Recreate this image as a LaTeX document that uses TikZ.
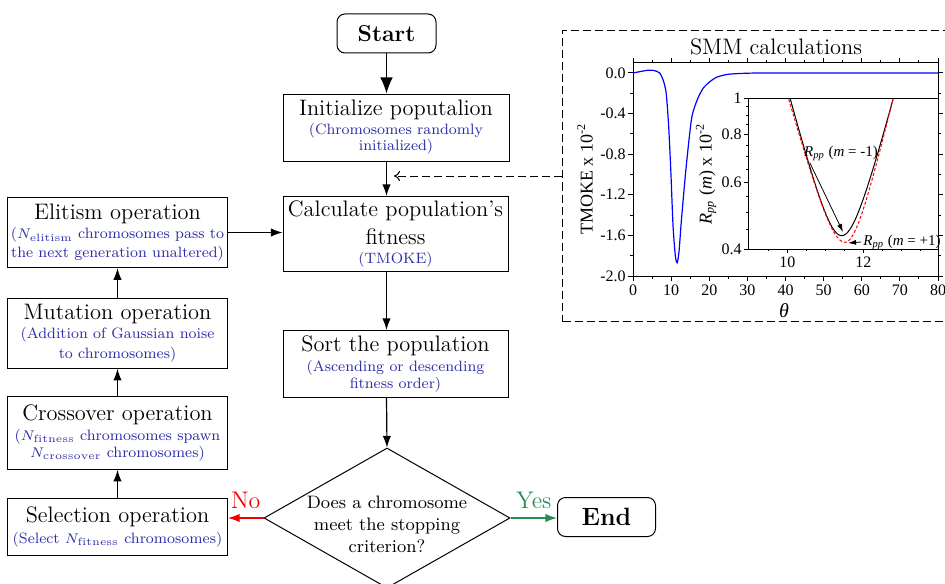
\documentclass[tikz,border=0pt]{standalone}
\usepackage{fontspec}
\newfontfamily\plotfont{Liberation Serif}
\usetikzlibrary{shapes.geometric,arrows.meta}
\definecolor{notecol}{RGB}{45,45,170}
\definecolor{yescol}{RGB}{40,140,85}
\definecolor{nocol}{RGB}{240,0,0}
\newcommand{\boxtitle}[1]{{\fontsize{11.2}{13}\selectfont #1}}
\newcommand{\boxnote}[1]{{\color{notecol}#1}}
\begin{document}
\begin{tikzpicture}[x=0.5pt,y=-0.5pt,
	stepbox/.style={draw,line width=0.5pt,align=center,inner sep=1pt,font=\fontsize{7.5}{8.3}\selectfont},
	termbox/.style={draw,line width=0.5pt,rounded corners=4pt,minimum height=19.5pt,font=\bfseries\fontsize{11.5}{13}\selectfont},
	decide/.style={draw,diamond,line width=0.5pt,minimum width=123pt,minimum height=70pt,inner sep=0pt},
	qtext/.style={align=center,inner sep=0pt,font=\fontsize{9}{11}\selectfont},
	flow/.style={line width=0.6pt,-{Latex[length=5.8pt,width=4.2pt]}},
	panel/.style={draw,line width=0.5pt,dash pattern=on 4pt off 2pt,minimum width=192.25pt,minimum height=145.5pt},
	axis/.style={line width=0.5pt},
	ticklbl/.style={inner sep=1pt,font=\plotfont\fontsize{8}{9}\selectfont},
	axlbl/.style={inner sep=1pt,font=\plotfont\fontsize{9}{10}\selectfont},
	annot/.style={inner sep=1pt,font=\plotfont\fontsize{7.5}{9}\selectfont}]
	\useasboundingbox (0,0) rectangle (945,583);
	% flow chart
	\node[termbox,minimum width=49.5pt] (start) at (386.5,33.5) {Start};
	\node[stepbox,minimum width=113pt,minimum height=33.5pt] (init) at (396,127.5) {\boxtitle{Initialize poputalion}\\[1pt] \boxnote{(Chromosomes randomly}\\ \boxnote{initialized)}};
	\node[stepbox,minimum width=112.5pt,minimum height=37.5pt] (calc) at (395.5,234) {\boxtitle{Calculate population's}\\[3pt] \boxtitle{fitness}\\[1.5pt] \boxnote{(TMOKE)}};
	\node[stepbox,minimum width=112.5pt,minimum height=33.5pt] (sort) at (395.5,364) {\boxtitle{Sort the population}\\[1.5pt] \boxnote{(Ascending or descending}\\ \boxnote{fitness order)}};
	\node[decide] (ask) at (387,518) {};
	\node[qtext,yshift=-3pt] (asktext) at (ask) {Does a chromosome\\meet the stopping\\criterion?};
	\node[termbox,minimum width=49pt,font=\bfseries\fontsize{12.5}{14}\selectfont] (fin) at (606.5,517) {End};
	\node[stepbox,minimum width=110pt,minimum height=28.7pt] (sel) at (117.5,527) {\boxtitle{Selection operation}\\[2pt] \boxnote{(Select $N_{\mathrm{fitness}}$ chromosomes)}};
	\node[stepbox,minimum width=110pt,minimum height=36.3pt] (cross) at (117.5,433) {\boxtitle{Crossover operation}\\[1.5pt] \boxnote{($N_{\mathrm{fitness}}$ chromosomes spawn}\\[0.5pt] \boxnote{$N_{\mathrm{crossover}}$ chromosomes)}};
	\node[stepbox,minimum width=110pt,minimum height=35pt] (mut) at (117.5,333.3) {\boxtitle{Mutation operation}\\[1pt] \boxnote{(Addition of Gaussian noise}\\[1.5pt] \boxnote{to chromosomes)}};
	\node[stepbox,minimum width=110pt,minimum height=35.2pt] (elit) at (117.5,232.5) {\boxtitle{Elitism operation}\\[1.5pt] \boxnote{($N_{\mathrm{elitism}}$ chromosomes pass to}\\[1pt] \boxnote{the next generation unaltered)}};
	\draw[flow,-{Latex[length=8pt,width=6.3pt]}] (start.south) -- (start.south |- init.north);
	\draw[flow] (init.south -| start) -- (calc.north -| start);
	\draw[flow] (calc.south -| start) -- (sort.north -| start);
	\draw[flow] (sort.south -| start) -- (ask.north);
	\draw[flow,nocol] (ask.west) -- node[above=3.5pt,inner sep=1pt,font=\fontsize{12}{13}\selectfont] (nolab) {No} (ask.west -| sel.east);
	\draw[flow,yescol] (ask.east) -- node[above=3.5pt,inner sep=1pt,font=\fontsize{12}{13}\selectfont] (yeslab) {Yes} (ask.east -| fin.west);
	\draw[flow] (sel.north) -- (cross.south);
	\draw[flow] (cross.north) -- (mut.south);
	\draw[flow] (mut.north) -- (elit.south);
	\draw[flow] (elit.east) -- (elit.east -| calc.west);
	% SMM panel
	\node[panel] (smm) at (754.75,176) {};
	\coordinate (gap) at (394,176);
	\draw[line width=0.5pt,dash pattern=on 4pt off 2pt,-{To[length=3pt,width=5pt]}] (smm.west) -- (gap);
	\node[font=\fontsize{11.2}{13}\selectfont] (smmtitle) at (776,47) {SMM calculations};
	% main plot
	\draw[axis] (633,63) rectangle (938,276);
	\foreach \t in {0,10,...,80}{
		\draw[axis] ({633+3.8125*\t},276) -- ++(0,5);
		\draw[axis] ({633+3.8125*\t},63) -- ++(0,-5);
		\node[ticklbl] (xt\t) at ({633+3.8125*\t},290) {\t};
	}
	\foreach \t in {5,15,...,75}{
		\draw[axis] ({633+3.8125*\t},276) -- ++(0,3);
		\draw[axis] ({633+3.8125*\t},63) -- ++(0,-3);
	}
	\foreach \i/\lab in {0/0.0,1/-0.4,2/-0.8,3/-1.2,4/-1.6,5/-2.0}{
		\draw[axis] (633,{73+40.6*\i}) -- ++(-5,0);
		\draw[axis] (938,{73+40.6*\i}) -- ++(5,0);
		\node[ticklbl,anchor=east] (yt\i) at (628,{73+40.6*\i}) {\lab};
	}
	\foreach \i in {0,...,4}{
		\draw[axis] (633,{93.3+40.6*\i}) -- ++(-3,0);
		\draw[axis] (938,{93.3+40.6*\i}) -- ++(3,0);
	}
	\node[axlbl,rotate=90] (tmokelab) at (585,179) {TMOKE x 10\textsuperscript{-2}};
	\node[axlbl,font=\plotfont\itshape\fontsize{10}{11}\selectfont] (thlab) at (784,311) {θ};
	\draw[blue,line width=0.6pt] plot[smooth,tension=0.4] coordinates {(633,73) (640.6,71.5) (648.3,70.2) (654,70.5) (659.7,73) (663.5,81.1) (666.2,93.3) (668.5,123.8) (670.7,168.4) (673,225.3) (675.3,255.7) (677.2,262.8) (679.1,250.6) (681.4,220.2) (686,168.4) (691.7,117.7) (697.8,98.4) (703.2,88.2) (709.3,82.1) (716.9,77.1) (728,74.3) (745,73.3) (770,73) (938,73)};
	% inset
	\fill[white] (748,98) rectangle (938,249);
	\begin{scope}
		\clip (748,98) rectangle (938,249);
		\draw[line width=0.5pt] plot[domain=-1.6:1.6,samples=81,smooth] ({841.7+38*\x},{311.7-10*sqrt(57.76+215.56*\x*\x)});
		\draw[red,line width=0.5pt,dash pattern=on 1.5pt off 1pt] plot[domain=-1.7:1.6,samples=81,smooth] ({845+38*\x},{318.3-10*sqrt(57.76+(\x<0?192.6:265.08)*\x*\x)});
	\end{scope}
	\draw[axis] (938,98) -- (748,98) -- (748,249) -- (938,249);
	\foreach \v/\n/\lab in {1/a/1,0.8/b/0.8,0.6/c/0.6,0.4/d/0.4}{
		\draw[axis] (748,{98-379.5*log10(\v)}) -- ++(-4,0);
		\node[ticklbl,anchor=east] (iy\n) at (744,{98-379.5*log10(\v)}) {\lab};
	}
	\foreach \v in {0.45,0.5,0.55,0.65,0.7,0.75,0.85,0.9,0.95}{
		\draw[axis] (748,{98-379.5*log10(\v)}) -- ++(-2,0);
	}
	\foreach \t in {10,12}{
		\draw[axis] ({787.3+38*(\t-10)},249) -- ++(0,4);
		\node[ticklbl] (ix\t) at ({787.3+38*(\t-10)},262) {\t};
	}
	\foreach \t in {9.5,10.5,11,11.5,12.5,13,13.5}{
		\draw[axis] ({787.3+38*(\t-10)},249) -- ++(0,2);
	}
	\node[axlbl,rotate=90] (rpplab) at (706,174) {\textit{R}\textsubscript{\textit{pp}} (\textit{m}) x 10\textsuperscript{-2}};
	\node[annot] (rneg) at (841,153) {\textit{R}\textsubscript{\textit{pp}} (\textit{m} = -1)};
	\node[annot] (rpos) at (902,242) {\textit{R}\textsubscript{\textit{pp}} (\textit{m} = +1)};
	\coordinate (minneg) at (843,232);
	\coordinate (minpos) at (848,243);
	\draw[line width=0.4pt,-{Latex[length=4pt,width=2.5pt]}] ([xshift=4pt]rneg.south west) -- (minneg);
	\draw[line width=0.4pt,-{Latex[length=4pt,width=2.5pt]}] (rpos.west) -- (minpos);
\end{tikzpicture}
\end{document}
